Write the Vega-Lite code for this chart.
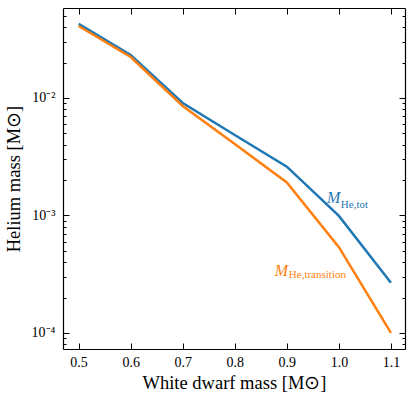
{
  "$schema": "https://vega.github.io/schema/vega-lite/v6.json",
  "width": 342,
  "height": 341,
  "autosize": "none",
  "padding": {"left": 63, "top": 8, "right": 10, "bottom": 49},
  "background": "white",
  "config": {
    "view": {"stroke": null},
    "axis": {
      "domainColor": "black",
      "domainWidth": 1.2,
      "tickColor": "black",
      "tickWidth": 1,
      "labelFont": "Liberation Serif",
      "labelFontSize": 14,
      "labelColor": "black",
      "titleFont": "Liberation Serif",
      "titleFontSize": 18.5,
      "titleFontWeight": "normal",
      "titleColor": "black",
      "grid": false,
      "labelOverlap": false
    }
  },
  "datasets": {
    "lines": [
      {"wd": 0.5, "mass": 0.0427, "series": "tot"},
      {"wd": 0.6, "mass": 0.0232, "series": "tot"},
      {"wd": 0.7, "mass": 0.00906, "series": "tot"},
      {"wd": 0.8, "mass": 0.00484, "series": "tot"},
      {"wd": 0.9, "mass": 0.0026, "series": "tot"},
      {"wd": 1.0, "mass": 0.00099, "series": "tot"},
      {"wd": 1.1, "mass": 0.000267, "series": "tot"},
      {"wd": 0.5, "mass": 0.041, "series": "transition"},
      {"wd": 0.6, "mass": 0.0223, "series": "transition"},
      {"wd": 0.7, "mass": 0.00855, "series": "transition"},
      {"wd": 0.8, "mass": 0.00406, "series": "transition"},
      {"wd": 0.9, "mass": 0.00191, "series": "transition"},
      {"wd": 1.0, "mass": 0.000537, "series": "transition"},
      {"wd": 1.1, "mass": 0.0001, "series": "transition"}
    ]
  },
  "layer": [
    {
      "data": {"name": "lines"},
      "mark": {"type": "line", "strokeWidth": 2.5},
      "encoding": {
        "x": {
          "field": "wd", "type": "quantitative",
          "scale": {"domain": [0.47, 1.127], "nice": false, "zero": false},
          "axis": {
            "orient": "bottom",
            "title": "White dwarf mass [M⊙]",
            "values": [0.5, 0.6, 0.7, 0.8, 0.9, 1.0, 1.1],
            "labelExpr": "format(datum.value, '.1f')",
            "tickSize": -6,
            "labelPadding": 12,
            "titlePadding": 4
          }
        },
        "y": {
          "field": "mass", "type": "quantitative",
          "scale": {"type": "log", "domain": [0.000073, 0.0583], "nice": false},
          "axis": {
            "orient": "left",
            "title": "Helium mass [M⊙]",
            "values": [0.00008, 0.00009, 0.0001, 0.0002, 0.0003, 0.0004, 0.0005, 0.0006, 0.0007, 0.0008, 0.0009, 0.001, 0.002, 0.003, 0.004, 0.005, 0.006, 0.007, 0.008, 0.009, 0.01, 0.02, 0.03, 0.04, 0.05],
            "labelExpr": "datum.value == 0.01 ? '10⁻²' : datum.value == 0.001 ? '10⁻³' : datum.value == 0.0001 ? '10⁻⁴' : ''",
            "tickSize": {"condition": {"test": "datum.value == 0.01 || datum.value == 0.001 || datum.value == 0.0001", "value": -6}, "value": -3},
            "labelPadding": 14,
            "titlePadding": 8
          }
        },
        "color": {
          "field": "series", "type": "nominal",
          "scale": {"domain": ["tot", "transition"], "range": ["#1f77b4", "#ff7f0e"]},
          "legend": null
        }
      }
    },
    {
      "data": {"name": "lines"},
      "mark": {"type": "point", "opacity": 0},
      "encoding": {
        "x": {
          "field": "wd", "type": "quantitative",
          "axis": {
            "orient": "top",
            "title": null,
            "labels": false,
            "values": [0.5, 0.6, 0.7, 0.8, 0.9, 1.0, 1.1],
            "tickSize": -6
          }
        },
        "y": {
          "field": "mass", "type": "quantitative",
          "axis": {
            "orient": "right",
            "title": null,
            "labels": false,
            "values": [0.00008, 0.00009, 0.0001, 0.0002, 0.0003, 0.0004, 0.0005, 0.0006, 0.0007, 0.0008, 0.0009, 0.001, 0.002, 0.003, 0.004, 0.005, 0.006, 0.007, 0.008, 0.009, 0.01, 0.02, 0.03, 0.04, 0.05],
            "tickSize": {"condition": {"test": "datum.value == 0.01 || datum.value == 0.001 || datum.value == 0.0001", "value": -6}, "value": -3}
          }
        }
      }
    },
    {
      "data": {"values": [
        {"wd": 0.977, "mass": 0.00141, "t": "M", "c": "tot"},
        {"wd": 0.877, "mass": 0.000337, "t": "M", "c": "transition"}
      ]},
      "mark": {"type": "text", "align": "left", "baseline": "middle", "font": "Liberation Serif", "fontStyle": "italic", "fontSize": 16},
      "encoding": {
        "x": {"field": "wd", "type": "quantitative", "axis": null},
        "y": {"field": "mass", "type": "quantitative", "axis": null},
        "text": {"field": "t"},
        "color": {"field": "c", "type": "nominal", "legend": null}
      }
    },
    {
      "data": {"values": [
        {"wd": 1.0038, "mass": 0.00123, "t": "He,tot", "c": "tot"},
        {"wd": 0.9038, "mass": 0.000312, "t": "He,transition", "c": "transition"}
      ]},
      "mark": {"type": "text", "align": "left", "baseline": "middle", "font": "Liberation Serif", "fontSize": 11},
      "encoding": {
        "x": {"field": "wd", "type": "quantitative", "axis": null},
        "y": {"field": "mass", "type": "quantitative", "axis": null},
        "text": {"field": "t"},
        "color": {"field": "c", "type": "nominal", "legend": null}
      }
    }
  ],
  "resolve": {"axis": {"x": "independent", "y": "independent"}}
}
